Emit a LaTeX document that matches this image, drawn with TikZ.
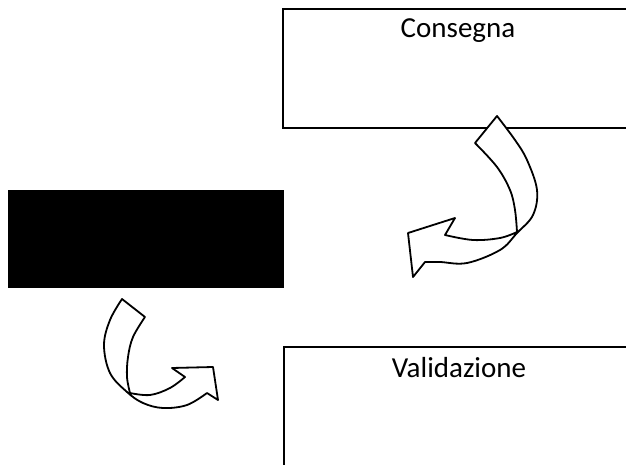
\documentclass[tikz,border=0pt]{standalone}
\usepackage{fontspec}
\setmainfont{Carlito}
\begin{document}
\begin{tikzpicture}[x=1pt,y=-1pt,
  box/.style={draw=black,line width=1.7pt},
  lbl/.style={font=\fontsize{29}{33}\selectfont,anchor=base,inner sep=0pt},
  band/.style={draw=black,fill=white,line width=1.8pt,line join=round}]
\useasboundingbox (0,0) rectangle (626,465);
\fill[white] (0,0) rectangle (626,465);
\begin{scope}
\clip (0,0) rectangle (626,465);
\draw[box] (283,9) rectangle (640,128);
\draw[box] (284,347) rectangle (640,480);
\end{scope}
\fill[black] (8,190) rectangle (284,288);
\node[lbl] (consegna) at (458,38) {Consegna};
\node[lbl] (validazione) at (459,377) {Validazione};
% top-right curved arrow
\draw[band] (497,116) -- plot[smooth,tension=0.6] coordinates {(497,116) (515,140) (527,160) (537,190) (533,215) (517,233) (500,250) (467,263) (440,262) (425,262)}
  -- (413,277) -- (408,233) -- (455,218) -- (445,235)
  -- plot[smooth,tension=0.6] coordinates {(445,235) (473,240) (500,238) (517,232)}
  -- plot[smooth,tension=0.6] coordinates {(517,232) (515,210) (510,190) (497,167) (475,143)}
  -- cycle;
% bottom-left curved arrow
\draw[band] (122,299) -- plot[smooth,tension=0.6] coordinates {(122,299) (110,320) (104,345) (110,373) (127,392) (143,403) (163,408) (187,405) (207,393)}
  -- (218,400) -- (213,367) -- (172,368) -- (185,377)
  -- plot[smooth,tension=0.6] coordinates {(185,377) (170,388) (150,395) (130,393)}
  -- plot[smooth,tension=0.6] coordinates {(130,393) (127,377) (128,357) (133,337) (145,317)}
  -- cycle;
\end{tikzpicture}
\end{document}
